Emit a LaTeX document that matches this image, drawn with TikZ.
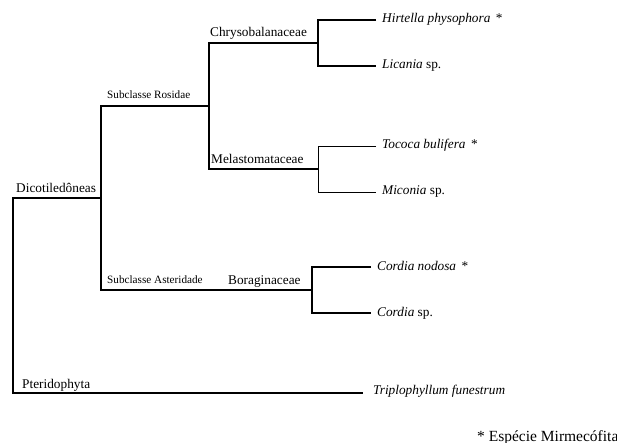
\documentclass[tikz,border=0pt]{standalone}
\usepackage{fontspec}
\setmainfont{Liberation Serif}

\tikzset{
  lbl/.style={inner sep=0pt, font=\fontsize{13.3}{15}\selectfont},
  sublbl/.style={inner sep=0pt, font=\fontsize{11.2}{13}\selectfont},
  leaf/.style={anchor=west, inner xsep=6pt, inner ysep=0pt, text height=9pt, text depth=3pt,
    font=\fontsize{13.3}{15}\selectfont\itshape},
  br/.style={line width=1.5pt},
  thinbr/.style={line width=0.9pt}
}

\begin{document}
\begin{tikzpicture}[x=1pt, y=-1pt]
    \useasboundingbox (0,0) rectangle (617,443);

    % joints of the tree
    \coordinate (root) at (13,198);
    \coordinate (dico) at (101,198);
    \coordinate (pter) at (13,393);
    \coordinate (pterend) at (363,393);
    \coordinate (ros) at (101,106);
    \coordinate (ast) at (101,290);
    \coordinate (rosend) at (209,106);
    \coordinate (chry) at (209,43);
    \coordinate (mela) at (209,169);
    \coordinate (chryend) at (318,43);
    \coordinate (melaend) at (318,169);
    \coordinate (bora) at (312,290);

    % leaves
    \node[leaf] (hirt) at (376,20) {Hirtella physophora \,\normalfont*};
    \node[leaf] (lica) at (376,66) {Licania \normalfont sp.};
    \node[leaf] (toco) at (376,146) {Tococa bulifera \,\normalfont*};
    \node[leaf] (mico) at (376,192) {Miconia \normalfont sp.};
    \node[leaf] (cnod) at (371,267) {Cordia nodosa \,\normalfont*};
    \node[leaf] (csp) at (371,313) {Cordia \normalfont sp.};
    \node[leaf, anchor=base west, inner xsep=0pt] (trip) at (373,394) {Triplophyllum funestrum};

    % group names
    \node[lbl, anchor=base west] (ndico) at (16,193) {Dicotiledôneas};
    \node[lbl, anchor=base west] (npter) at (22,388) {Pteridophyta};
    \node[sublbl, anchor=base west] (nros) at (107,99) {Subclasse Rosidae};
    \node[sublbl, anchor=base west] (nast) at (107,283) {Subclasse Asteridade};
    \node[lbl, anchor=base west] (nchry) at (210,37) {Chrysobalanaceae};
    \node[lbl, anchor=base west] (nmela) at (211,164) {Melastomataceae};
    \node[lbl, anchor=base west] (nbora) at (228,284) {Boraginaceae};

    \node[anchor=base west, inner sep=0pt, font=\fontsize{15.5}{17}\selectfont] (note) at (477,441) {* Espécie Mirmecófita};

    % branches
    \draw[br] (dico) -- (root) -- (pter) -- (pterend);
    \draw[br] (rosend) -- (ros) -- (ast) -- (bora);
    \draw[br] (chryend) -- (chry) -- (mela) -- (melaend);
    \draw[br] (hirt.west) -- (hirt.west -| chryend) -- (lica.west -| chryend) -- (lica.west);
    \draw[thinbr] (toco.west) -- (toco.west -| melaend) -- (mico.west -| melaend) -- (mico.west);
    \draw[br] (cnod.west) -- (cnod.west -| bora) -- (csp.west -| bora) -- (csp.west);
\end{tikzpicture}
\end{document}
